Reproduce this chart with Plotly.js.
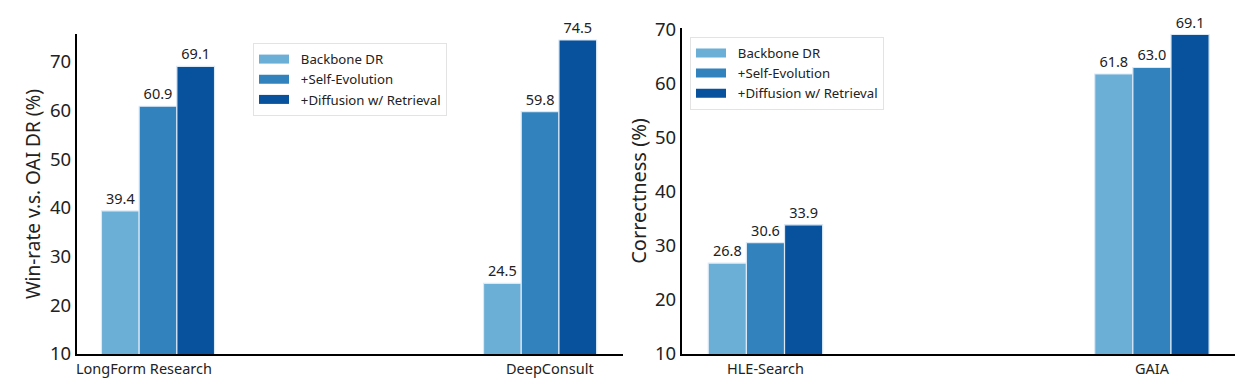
<!DOCTYPE html>
<html>
<head>
<meta charset="utf-8">
<script src="https://cdn.plot.ly/plotly-3.0.1.min.js"></script>
<style>html,body{margin:0;padding:0;background:#fff;}#chart{width:1250px;height:384px;}</style>
</head>
<body>
<div id="chart"></div>
<script>
// ---- data ----
const seriesNames = ["Backbone DR", "+Self-Evolution", "+Diffusion w/ Retrieval"];
const leftCategories = ["LongForm Research", "DeepConsult"];
const leftBackbone = [39.4, 24.5];
const leftSelfEvo = [60.9, 59.8];
const leftDiffusion = [69.1, 74.5];
const rightCategories = ["HLE-Search", "GAIA"];
const rightBackbone = [26.8, 61.8];
const rightSelfEvo = [30.6, 63.0];
const rightDiffusion = [33.9, 69.1];
const leftYTitle = "Win-rate v.s. OAI DR (%)";
const rightYTitle = "Correctness (%)";
const yTicks = [10, 20, 30, 40, 50, 60, 70];

// ---- style ----
const colors = ["#6baed6", "#3182bd", "#08519c"];
const FONT = "Noto Sans, Open Sans, DejaVu Sans, sans-serif";

function makeTrace(name, cats, vals, i, xa, ya) {
  return {
    type: "bar", name: name, x: cats, y: vals,
    xaxis: xa, yaxis: ya, showlegend: false,
    marker: {color: colors[i], line: {color: "#dbe9f6", width: 1.2}},
    text: vals.map(v => v.toFixed(1)),
    textposition: "outside", constraintext: "none", cliponaxis: false,
    textfont: {family: FONT, size: 14.5, color: "#222"},
    hoverinfo: "x+y+name"
  };
}
// legend-only entries drawn as wide rectangular swatches
function legendEntry(name, i, xa, ya, legendId) {
  return {
    type: "scatter", mode: "lines", name: "\u00a0\u00a0" + name, x: [null], y: [null],
    xaxis: xa, yaxis: ya, legend: legendId, showlegend: true,
    line: {color: colors[i], width: 9}, hoverinfo: "skip"
  };
}

const leftSeries = [leftBackbone, leftSelfEvo, leftDiffusion];
const rightSeries = [rightBackbone, rightSelfEvo, rightDiffusion];
const traces = [];
leftSeries.forEach((s, i) => traces.push(makeTrace(seriesNames[i], leftCategories, s, i, "x", "y")));
rightSeries.forEach((s, i) => traces.push(makeTrace(seriesNames[i], rightCategories, s, i, "x2", "y2")));
seriesNames.forEach((n, i) => traces.push(legendEntry(n, i, "x", "y", "legend")));
seriesNames.forEach((n, i) => traces.push(legendEntry(n, i, "x2", "y2", "legend2")));

const axisCommon = {
  showline: true, linecolor: "#000", linewidth: 2.2, showgrid: false,
  zeroline: false, ticks: ""
};

const legendCommon = {
  bgcolor: "#fff", bordercolor: "#e3e3e3", borderwidth: 1,
  font: {family: FONT, size: 13.2, color: "#222"},
  tracegroupgap: 0, itemwidth: 30, traceorder: "normal",
  xanchor: "left", yanchor: "top"
};

// category label annotations (positioned under bars)
const labelShiftsLeft = [-14, 10];
const annotations = [];
leftCategories.forEach((c, i) => annotations.push({
  text: c, x: c, xref: "x", y: 0.0755, yref: "paper", yanchor: "top",
  xshift: labelShiftsLeft[i], yshift: -1, showarrow: false,
  font: {family: FONT, size: 14.5, color: "#222"}
}));

const layout = {
  width: 1250, height: 384,
  margin: {l: 0, r: 0, t: 0, b: 0},
  paper_bgcolor: "#fff", plot_bgcolor: "#fff",
  font: {family: FONT, color: "#222"},
  barmode: "group", bargap: 0.704, bargroupgap: 0,
  showlegend: true,
  xaxis: Object.assign({}, axisCommon, {
    domain: [0.0616, 0.4984], range: [-0.212, 1.217],
    showticklabels: false, anchor: "y"
  }),
  yaxis: Object.assign({}, axisCommon, {
    domain: [0.0781, 0.911], range: [10, 75.7], anchor: "x",
    tickvals: yTicks, ticklabelstandoff: 0,
    tickfont: {family: FONT, size: 18.5, color: "#222"},
    title: {text: leftYTitle, font: {family: FONT, size: 19, color: "#222"}, standoff: 4}
  }),
  xaxis2: Object.assign({}, axisCommon, {
    domain: [0.5456, 0.988], range: [-0.216, 1.215], anchor: "y2",
    tickfont: {family: FONT, size: 14.5, color: "#222"}
  }),
  yaxis2: Object.assign({}, axisCommon, {
    domain: [0.0781, 0.927], range: [10, 70.3], anchor: "x2",
    tickvals: yTicks, ticklabelstandoff: 0,
    tickfont: {family: FONT, size: 18.5, color: "#222"},
    title: {text: rightYTitle, font: {family: FONT, size: 20, color: "#222"}, standoff: 3}
  }),
  legend: Object.assign({}, legendCommon, {x: 0.2024, y: 0.888}),
  legend2: Object.assign({}, legendCommon, {x: 0.552, y: 0.904}),
  annotations: annotations
};

Plotly.newPlot("chart", traces, layout, {displayModeBar: false, staticPlot: true});
</script>
</body>
</html>
